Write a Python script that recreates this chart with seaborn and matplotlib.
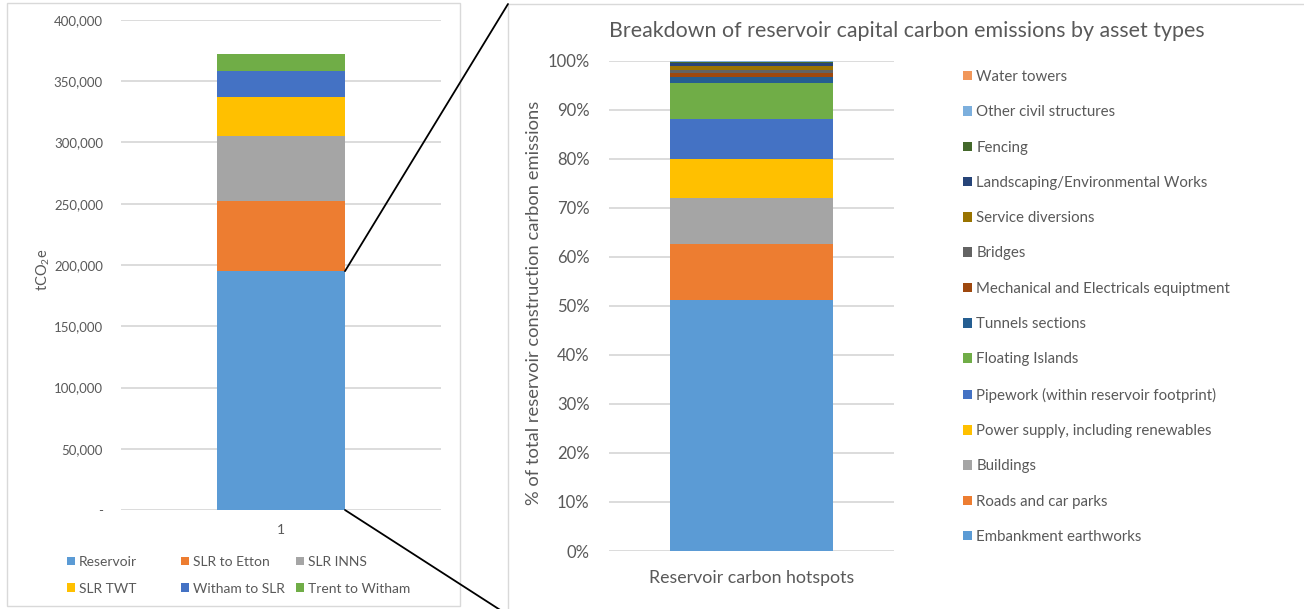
import matplotlib
matplotlib.use("Agg")
import matplotlib.pyplot as plt
from matplotlib.patches import Patch, Rectangle, ConnectionPatch
import numpy as np
import pandas as pd
import seaborn as sns

# Whole-scheme capital carbon by component (tCO2e)
scheme_category = ["1"]
scheme_parts = ["Reservoir", "SLR to Etton", "SLR INNS", "SLR TWT",
                "Witham to SLR", "Trent to Witham"]
scheme_values = [195000, 57000, 53000, 32000, 21000, 14500]
scheme_colors = ["#5B9BD5", "#ED7D31", "#A5A5A5", "#FFC000", "#4472C4", "#70AD47"]
scheme_yticks = [0, 50000, 100000, 150000, 200000, 250000, 300000, 350000, 400000]
scheme_ytick_labels = ["-", "50,000", "100,000", "150,000", "200,000",
                       "250,000", "300,000", "350,000", "400,000"]

# Reservoir capital carbon split by asset type (% of total)
asset_category = ["Reservoir carbon hotspots"]
asset_types = ["Embankment earthworks", "Roads and car parks", "Buildings",
               "Power supply, including renewables",
               "Pipework (within reservoir footprint)", "Floating Islands",
               "Tunnels sections", "Mechanical and Electricals equiptment",
               "Bridges", "Service diversions", "Landscaping/Environmental Works",
               "Fencing", "Other civil structures", "Water towers"]
asset_shares = [51.1, 11.55, 9.35, 7.95, 8.05, 7.35, 1.2, 0.9, 0.65, 0.8,
                0.6, 0.15, 0.25, 0.1]
asset_colors = ["#5B9BD5", "#ED7D31", "#A5A5A5", "#FFC000", "#4472C4", "#70AD47",
                "#255E91", "#9E480E", "#636363", "#997300", "#264478", "#43682B",
                "#7CAFDD", "#F1975A"]
asset_yticks = [0, 10, 20, 30, 40, 50, 60, 70, 80, 90, 100]
asset_ytick_labels = [f"{v}%" for v in asset_yticks]

TEXT = "#595959"
GRID = "#D9D9D9"

sns.set_theme(style="white")
plt.rcParams["font.family"] = ["Lato", "DejaVu Sans"]
plt.rcParams["mathtext.fontset"] = "custom"
plt.rcParams["mathtext.rm"] = "Lato"
plt.rcParams["mathtext.it"] = "Lato"
plt.rcParams["mathtext.default"] = "regular"

W, H = 1304, 609
fig = plt.figure(figsize=(W / 100, H / 100), dpi=100)
fig.patch.set_facecolor("white")


def stacked_bar(ax, category, parts, values, colors, width):
    cum = np.cumsum(values)
    df = pd.DataFrame({"part": parts, "top": cum})
    # draw tallest cumulative first so each lower segment sits on top of it
    for i in range(len(parts) - 1, -1, -1):
        sns.barplot(x=category, y=[df["top"][i]], color=colors[i], width=width,
                    saturation=1, ax=ax, linewidth=0, errorbar=None)
    ax.set_xlim(-0.5, 0.5)


def style_axis(ax):
    sns.despine(ax=ax, left=True, bottom=True)
    ax.yaxis.grid(True, color=GRID, lw=1.3)
    ax.set_axisbelow(True)
    ax.tick_params(length=0, colors=TEXT)


# ---- left: scheme totals ----
ax1 = fig.add_axes([121 / W, 1 - 510 / H, 320 / W, 490 / H])
stacked_bar(ax1, scheme_category, scheme_parts, scheme_values, scheme_colors, 0.4)
ax1.set_ylim(0, 400000)
ax1.set_yticks(scheme_yticks)
ax1.set_yticklabels(scheme_ytick_labels, fontsize=9.5, color=TEXT)
ax1.tick_params(axis="y", pad=13)
ax1.tick_params(axis="x", pad=10, labelsize=10)
style_axis(ax1)
ax1.set_xlabel("")
ax1.set_ylabel("tCO$_2$e", fontsize=10.5, color=TEXT)
ax1.yaxis.set_label_coords(-0.215, 0.49)

# legend laid out row by row in three equal columns
col_x = [67, 181, 296]
for c in range(3):
    idx = [c, c + 3]
    handles = [Patch(facecolor=scheme_colors[i], edgecolor="none") for i in idx]
    labels = [scheme_parts[i] for i in idx]
    fig.legend(handles, labels, loc="upper left",
               bbox_to_anchor=(col_x[c] / W, 1 - 556 / H), frameon=False,
               fontsize=10, handlelength=0.55, handleheight=0.55,
               handletextpad=0.3, labelspacing=1.05, borderpad=0,
               borderaxespad=0, labelcolor=TEXT)

# ---- right: reservoir breakdown ----
ax2 = fig.add_axes([609 / W, 1 - 551 / H, 285 / W, 490.5 / H])
stacked_bar(ax2, asset_category, asset_types, asset_shares, asset_colors, 0.575)
ax2.set_ylim(0, 100)
ax2.set_yticks(asset_yticks)
ax2.set_yticklabels(asset_ytick_labels, fontsize=12, color=TEXT)
ax2.tick_params(axis="y", pad=14)
ax2.tick_params(axis="x", pad=14, labelsize=12.8)
style_axis(ax2)
ax2.set_xlabel("")
ax2.set_ylabel("% of total reservoir construction carbon emissions",
               fontsize=13.2, color=TEXT)
ax2.yaxis.set_label_coords(-0.235, 0.505)

rev = list(range(len(asset_types) - 1, -1, -1))
fig.legend([Patch(facecolor=asset_colors[i], edgecolor="none") for i in rev],
           [asset_types[i] for i in rev], loc="upper left",
           bbox_to_anchor=(963 / W, 1 - 70 / H), frameon=False, fontsize=10.8,
           handlelength=0.6, handleheight=0.6, handletextpad=0.3,
           labelspacing=1.42, borderpad=0, borderaxespad=0, labelcolor=TEXT)

fig.text(907 / W, 1 - 31 / H,
         "Breakdown of reservoir capital carbon emissions by asset types",
         ha="center", va="center", fontsize=15.4, color=TEXT)

# panel frames
fig.add_artist(Rectangle((7 / W, 1 - 606 / H), 453 / W, 603 / H,
                         transform=fig.transFigure, fill=False, ec=GRID, lw=1))
fig.add_artist(Rectangle((508 / W, 1 - 620 / H), 820 / W, 616 / H,
                         transform=fig.transFigure, fill=False, ec=GRID, lw=1))

# zoom lines from the reservoir segment to the breakdown panel
res_top = scheme_values[0]
for y_data, fy in [(res_top, 4), (0, 615)]:
    fig.add_artist(ConnectionPatch(xyA=(0.2, y_data), coordsA=ax1.transData,
                                   xyB=(508 / W, 1 - fy / H),
                                   coordsB=fig.transFigure,
                                   color="black", lw=1.3, clip_on=False))

fig.savefig("out.png", dpi=100, facecolor="white")
